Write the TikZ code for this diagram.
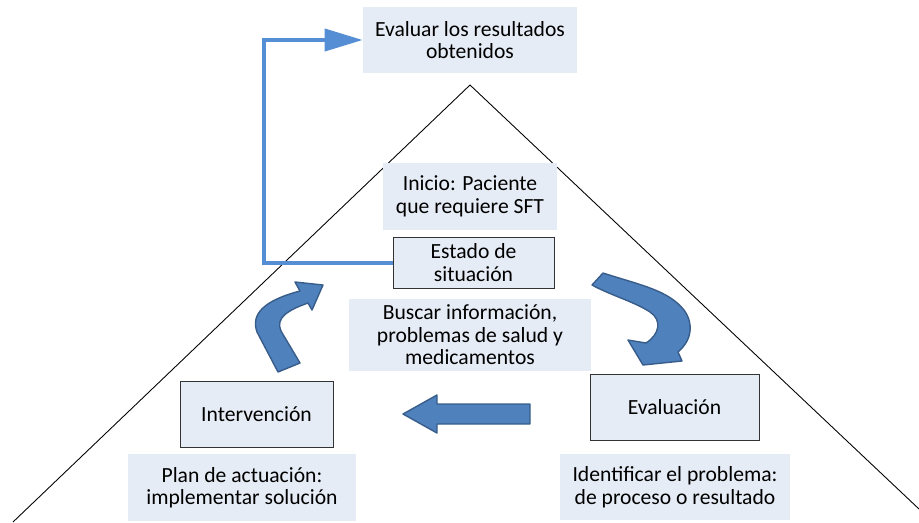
\documentclass[tikz,border=0pt]{standalone}
\usepackage{fontspec}
\setmainfont{Carlito}
\usetikzlibrary{arrows.meta}

\definecolor{boxfill}{RGB}{230,236,245}
\definecolor{arrowfill}{RGB}{79,129,189}
\definecolor{arrowline}{RGB}{56,93,138}
\definecolor{linkblue}{RGB}{85,142,213}

\tikzstyle{note} = [rectangle, align=center, fill=boxfill, inner sep=0pt, font=\fontsize{12.3}{12.8}\selectfont]
\tikzstyle{stage} = [note, draw=black!80, line width=0.5pt]
\tikzstyle{blockarrow} = [fill=arrowfill, draw=arrowline, line width=0.8pt, line join=round]
\tikzstyle{link} = [draw=linkblue, line width=0.08cm, -{Triangle[length=0.76cm,width=0.44cm]}]

\begin{document}
\begin{tikzpicture}[x=0.02cm, y=-0.02cm]
\useasboundingbox (0,0) rectangle (919,522);

% triangle
\draw [line width=0.5pt] (13,522) -- (470,85) -- (919,509);

\node (evaluar) [note, minimum width=4.28cm, minimum height=1.32cm] at (470,40) {Evaluar los resultados\\obtenidos};
\node (inicio) [note, minimum width=3.48cm, minimum height=1.34cm] at (470,196.5) {Inicio: Paciente\\que requiere SFT};
\node (estado) [stage, minimum width=3.22cm, minimum height=1.02cm] at (473.5,262.5) {Estado de\\situación};
\node (buscar) [note, minimum width=4.84cm, minimum height=1.44cm] at (470,335) {Buscar información,\\problemas de salud y\\medicamentos};
\node (intervencion) [stage, minimum width=3.06cm, minimum height=1.32cm] at (256.5,414) {Intervención};
\node (plan) [note, minimum width=4.56cm, minimum height=1.34cm] at (242,487.5) {Plan de actuación:\\implementar solución};
\node (evaluacion) [stage, minimum width=3.38cm, minimum height=1.32cm] at (674.5,407) {Evaluación};
\node (identificar) [note, minimum width=4.6cm, minimum height=1.32cm] at (675,487) {Identificar el problema:\\de proceso o resultado};

\draw [link] (estado.west) -- ++(-129,0) |- (evaluar.west);

% block arrows
\draw [blockarrow] (592,285) -- (603,273) .. controls (640,285) and (668,290) .. (684,310)
  .. controls (694,324) and (692,340) .. (678,352) -- (682,361) -- (643,365) -- (628,340) -- (646,343)
  .. controls (660,334) and (662,320) .. (650,312) .. controls (635,302) and (610,295) .. cycle;
\draw [blockarrow] (530,404) -- (437,404) -- (437,395) -- (403,414) -- (437,433) -- (437,424) -- (530,424) -- cycle;
\draw [blockarrow] (278,372) -- (257,332) .. controls (251,315) and (262,301) .. (300,291) -- (295,282) -- (323,285)
  -- (312,310) -- (308,303) .. controls (288,310) and (275,318) .. (281,331) -- (300,363) -- cycle;

\end{tikzpicture}
\end{document}
